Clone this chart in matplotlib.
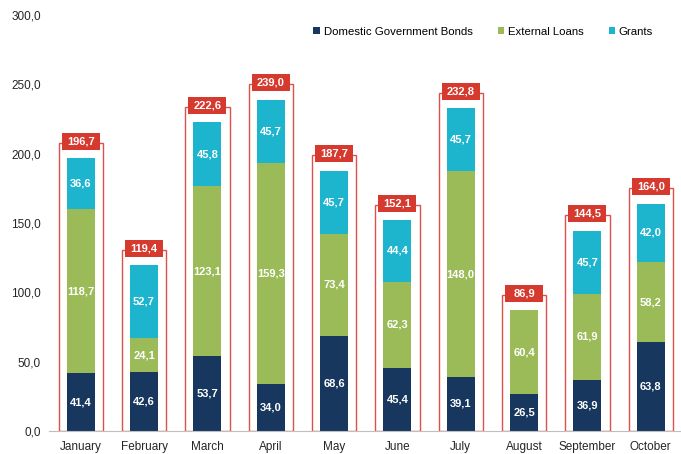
import matplotlib
matplotlib.use('Agg')
import matplotlib.pyplot as plt
import numpy as np

plt.rcParams['font.family'] = ['Liberation Sans', 'DejaVu Sans']

months = ['January', 'February', 'March', 'April', 'May', 'June', 'July',
          'August', 'September', 'October']
domestic = [41.4, 42.6, 53.7, 34.0, 68.6, 45.4, 39.1, 26.5, 36.9, 63.8]
external = [118.7, 24.1, 123.1, 159.3, 73.4, 62.3, 148.0, 60.4, 61.9, 58.2]
grants = [36.6, 52.7, 45.8, 45.7, 45.7, 44.4, 45.7, 0.0, 45.7, 42.0]
totals = [196.7, 119.4, 222.6, 239.0, 187.7, 152.1, 232.8, 86.9, 144.5, 164.0]

c_dom = '#17375E'
c_ext = '#9BBB59'
c_gr = '#1DB5CE'
c_red = '#D63A2F'

x = np.arange(len(months))
dom = np.array(domestic)
ext = np.array(external)
gr = np.array(grants)
tot = np.array(totals)

fig = plt.figure(figsize=(6.81, 4.54), dpi=100)
ax = fig.add_axes([0.072, 0.051, 0.93, 0.916])

# red outline around each stack, a bit taller than the total
ax.bar(x, tot + 11, width=0.7, facecolor='none', edgecolor='#E0504A',
       linewidth=1.0, zorder=1)

w = 0.44
ax.bar(x, dom, width=w, color=c_dom, label='Domestic Government Bonds', zorder=2)
ax.bar(x, ext, width=w, bottom=dom, color=c_ext, label='External Loans', zorder=2)
ax.bar(x, gr, width=w, bottom=dom + ext, color=c_gr, label='Grants', zorder=2)

def fmt(v):
    return ('%.1f' % v).replace('.', ',')

txt = dict(ha='center', va='center', color='white', fontsize=8,
           fontweight='bold', zorder=4)
for i in x:
    ax.text(i, dom[i] / 2, fmt(dom[i]), **txt)
    ax.text(i, dom[i] + ext[i] / 2, fmt(ext[i]), **txt)
    if gr[i] > 0:
        ax.text(i, dom[i] + ext[i] + gr[i] / 2, fmt(gr[i]), **txt)

# total label boxes
ax.bar(x, 12.3, width=0.6, bottom=tot + 6, color=c_red, zorder=3)
for i in x:
    ax.text(i, tot[i] + 12.2, fmt(tot[i]), **txt)

ax.set_xlim(-0.5, 9.5)
ax.set_ylim(0, 300)
ax.set_yticks(np.arange(0, 301, 50))
ax.set_yticklabels([fmt(v) for v in np.arange(0, 301, 50)])
ax.set_xticks(x)
ax.set_xticklabels(months)
ax.tick_params(axis='both', length=0, labelsize=8.5, colors='#262626')
ax.tick_params(axis='y', pad=6)
ax.tick_params(axis='x', pad=7)

for s in ['top', 'right', 'left']:
    ax.spines[s].set_visible(False)
ax.spines['bottom'].set_color('#BFBFBF')
ax.spines['bottom'].set_linewidth(0.8)

ax.legend(loc='center right', bbox_to_anchor=(0.97, 0.96), ncol=3,
          frameon=False, fontsize=8.2, handlelength=0.55, handleheight=0.55,
          handletextpad=0.35, columnspacing=2.2)

fig.savefig('out.png', dpi=100)
